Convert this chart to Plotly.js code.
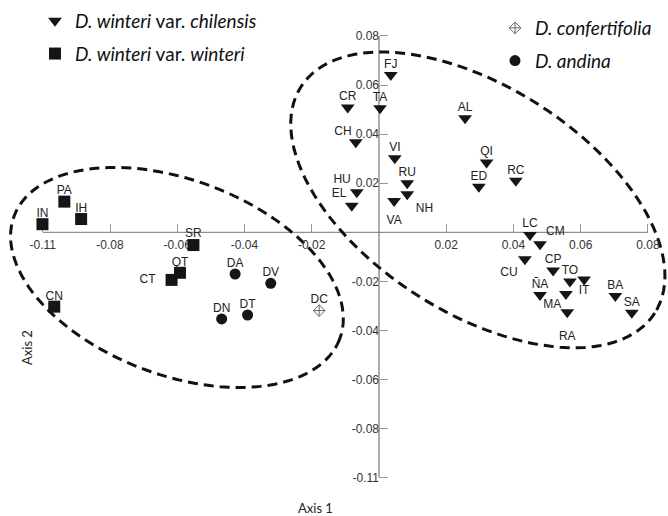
<!DOCTYPE html>
<html><head><meta charset="utf-8">
<script src="https://cdn.plot.ly/plotly-3.0.1.min.js"></script>
<style>html,body{margin:0;padding:0;background:#fff}#chart{width:668px;height:516px}</style>
</head><body><div id="chart"></div>
<script>
// ---- Data ----
// D. winteri var. chilensis (down triangles)
const chilLabels = ['FJ','CR','TA','CH','VI','HU','EL','RU','NH','VA','AL','QI','ED','RC','LC','CM','CU','CP','TO','IT','ÑA','MA','RA','BA','SA'];
const chilX = [0.0035,-0.0093,0.0003,-0.0069,0.0047,-0.0066,-0.0081,0.0084,0.0084,0.0045,0.0256,0.0320,0.0297,0.0407,0.0449,0.0479,0.0434,0.0518,0.0568,0.0610,0.0479,0.0556,0.0560,0.0703,0.0752];
const chilY = [0.0641,0.0509,0.0505,0.0367,0.0302,0.0163,0.0108,0.0200,0.0155,0.0128,0.0465,0.0284,0.0186,0.0210,-0.0011,-0.0049,-0.0110,-0.0156,-0.0201,-0.0192,-0.0256,-0.0251,-0.0326,-0.0260,-0.0328];
// D. winteri var. winteri (squares)
const wintLabels = ['IN','PA','IH','SR','QT','CT','CN'];
const wintX = [-0.1001,-0.0936,-0.0886,-0.0552,-0.0592,-0.0617,-0.0966];
const wintY = [0.0033,0.0125,0.0054,-0.0052,-0.0165,-0.0194,-0.0303];
// D. confertifolia
const confLabels = ['DC'];
const confX = [-0.0178];
const confY = [-0.0319];
// D. andina (circles)
const andLabels = ['DA','DV','DN','DT'];
const andX = [-0.0428,-0.0322,-0.0468,-0.0391];
const andY = [-0.0170,-0.0208,-0.0353,-0.0337];

// Tick values / labels
const xTickVals = [-0.10,-0.08,-0.06,-0.04,-0.02,0.02,0.04,0.06,0.08];
const xTickText = ['-0.11','-0.08','-0.06','-0.04','-0.02','0.02','0.04','0.06','0.08'];
const yTickVals = [0.08,0.06,0.04,0.02,-0.02,-0.04,-0.06,-0.08,-0.10];
const yTickText = ['0.08','0.06','0.04','0.02','-0.02','-0.04','-0.06','-0.08','-0.11'];

// ---- Styling / layout ----
const W = 668, H = 516;
const xr = [-0.11273, 0.08596];
const yr = [-0.11561, 0.09466];
const pxX = W / (xr[1] - xr[0]);
const pxY = H / (yr[1] - yr[0]);

// label placement (style only)
const chilPos = ['top center','top center','top center','top left','top center','top left','top left','top center','bottom right','bottom center',
                 'top center','top center','top center','top center','top center','top right','bottom left','top center','top center','bottom center',
                 'top center','bottom left','bottom center','top center','top center'];
const chilGap = [5,5,5,5,5,8,7,5,12,21,5,5,5,5,7,8,10,5,5,8,5,6,29,5,5];
const wintPos = ['top center','top center','top center','top center','top center','middle left','top center'];
const wintGap = [5,5,5,6,5,24,5];
const andPos = ['top center','top center','top center','top center'];
const andGap = [5,5,5,5];
const confPos = ['top center'];
const confGap = [5];

const labelFont = {family: 'Liberation Sans, Arial, sans-serif', size: 12, color: '#222'};
const ink = '#151515';

function ellipsePath(cx, cy, aPx, bPx, angDeg) {
  const th = angDeg * Math.PI / 180, n = 120;
  let d = '';
  for (let i = 0; i <= n; i++) {
    const t = 2 * Math.PI * i / n;
    const dx = aPx * Math.cos(t) * Math.cos(th) - bPx * Math.sin(t) * Math.sin(th);
    const dy = aPx * Math.cos(t) * Math.sin(th) + bPx * Math.sin(t) * Math.cos(th);
    const x = cx + dx / pxX, y = cy - dy / pxY;
    d += (i === 0 ? 'M' : 'L') + x.toFixed(6) + ',' + y.toFixed(6);
  }
  return d + 'Z';
}

function markerTrace(name, x, y, marker, legend, group) {
  return {type:'scatter', mode:'markers', name: name, legendgroup: group, x: x, y: y,
          marker: marker, cliponaxis:false, legend: legend};
}
function labelTrace(x, y, text, pos, gap) {
  return {type:'scatter', mode:'markers+text', showlegend:false, x: x, y: y, text: text,
          textposition: pos, textfont: labelFont, marker:{size: gap, opacity:0, color:'#fff'}, cliponaxis:false};
}

const traces = [
  markerTrace('<i>D. winteri</i> var. <i>chilensis</i>', chilX, chilY, {symbol:'triangle-down', size:12, color: ink}, 'legend', 'a'),
  markerTrace('<i>D. winteri</i> var. <i>winteri</i>', wintX, wintY, {symbol:'square', size:12, color: ink}, 'legend', 'b'),
  markerTrace('<i>D. confertifolia</i>', confX, confY, {symbol:'diamond-cross-open', size:9, color:'#666', line:{width:1, color:'#666'}}, 'legend2', 'c'),
  markerTrace('<i>D. andina</i>', andX, andY, {symbol:'circle', size:11, color: ink}, 'legend2', 'd'),
  labelTrace(chilX, chilY, chilLabels, chilPos, chilGap),
  labelTrace(wintX, wintY, wintLabels, wintPos, wintGap),
  labelTrace(confX, confY, confLabels, confPos, confGap),
  labelTrace(andX, andY, andLabels, andPos, andGap)
];

const tickFont = {family: 'Liberation Sans, Arial, sans-serif', size: 12, color: '#333'};
const legendFont = {family: 'Lato, Open Sans, sans-serif', size: 19, color: '#111'};

const layout = {
  width: W, height: H,
  margin: {l:0, r:0, t:0, b:0},
  paper_bgcolor: '#fff', plot_bgcolor: '#fff',
  hovermode: false,
  xaxis: {range: xr, domain:[0,1], anchor:'free', position: (0 - yr[0]) / (yr[1] - yr[0]),
          showline:false, zeroline:false, showgrid:false, ticks:'inside', ticklen:8, tickwidth:1, tickcolor:'#999',
          ticklabelstandoff: 4,
          tickmode:'array', tickvals: xTickVals, ticktext: xTickText, tickfont: tickFont, layer:'below traces', fixedrange:true},
  yaxis: {range: yr, domain:[0,1], anchor:'free', position: (0 - xr[0]) / (xr[1] - xr[0]),
          showline:false, zeroline:false, showgrid:false, ticks:'inside', ticklen:8, tickwidth:1, tickcolor:'#999',
          tickmode:'array', tickvals: yTickVals, ticktext: yTickText, tickfont: tickFont, layer:'below traces', fixedrange:true},
  showlegend: true,
  legend: {x: 35/W, y: 1 - 2/H, xanchor:'left', yanchor:'top', bgcolor:'rgba(0,0,0,0)', font: legendFont,
           traceorder:'grouped', tracegroupgap: 5, itemclick:false},
  legend2: {x: 495/W, y: 1 - 9/H, xanchor:'left', yanchor:'top', bgcolor:'rgba(0,0,0,0)', font: legendFont,
           traceorder:'grouped', tracegroupgap: 5, itemclick:false},
  shapes: [
    {type:'line', xref:'x', yref:'y', x0: xTickVals[0], x1: xTickVals[xTickVals.length-1], y0:0, y1:0, line:{color:'#8a8ca0', width:1.2}, layer:'below'},
    {type:'line', xref:'x', yref:'y', x0:0, x1:0, y0: yTickVals[yTickVals.length-1], y1: yTickVals[0], line:{color:'#777', width:1.2}, layer:'below'},
    {type:'path', xref:'x', yref:'y', path: ellipsePath(-0.0601, -0.0184, 174, 97.5, 20.7), line:{color:'#111', width:3, dash:'10px,6px'}, layer:'below'},
    {type:'path', xref:'x', yref:'y', path: ellipsePath(0.0294, 0.0132, 210, 113, 32.6), line:{color:'#111', width:3, dash:'10px,6px'}, layer:'below'}
  ],
  annotations: [
    {text:'Axis 1', xref:'paper', yref:'paper', x: 315/W, y: 1 - 508/H, xanchor:'center', yanchor:'middle', showarrow:false, font:{family:'Lato, Open Sans, sans-serif', size:13, color:'#222'}},
    {text:'Axis 2', xref:'paper', yref:'paper', x: 27/W, y: 1 - 348/H, xanchor:'center', yanchor:'middle', showarrow:false, textangle:-90, font:{family:'Lato, Open Sans, sans-serif', size:13, color:'#222'}}
  ]
};

Plotly.newPlot('chart', traces, layout, {displayModeBar:false, staticPlot:true});
</script>
</body></html>
